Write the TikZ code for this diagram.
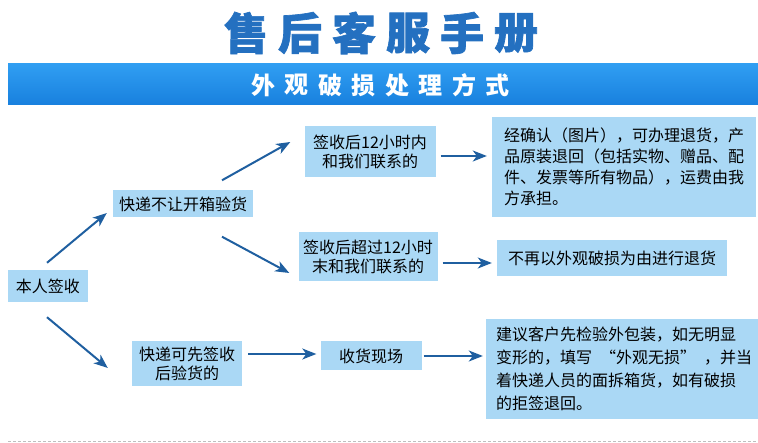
\documentclass[tikz,border=0pt]{standalone}
\usepackage{fontspec}
\newfontfamily\cjk{Noto Sans CJK SC}
\newfontfamily\titlefont[FakeBold=1.5]{Noto Sans CJK SC}
\usetikzlibrary{arrows.meta,calc}
\definecolor{boxblue}{RGB}{170,216,245}
\definecolor{arrowblue}{RGB}{31,95,160}
\definecolor{titleblue}{RGB}{36,112,192}
\definecolor{bandtop}{RGB}{48,158,242}
\definecolor{bandbot}{RGB}{24,128,222}
\tikzset{
  box/.style={fill=boxblue, inner sep=0pt, align=center,
    font=\cjk\fontsize{16}{19}\selectfont},
  bigbox/.style={box, align=left, inner xsep=10pt},
  arr/.style={draw=arrowblue, line width=2pt,
    -{Stealth[length=14pt,width=11pt,inset=4pt]}},
  titlechar/.style={text=titleblue, inner sep=0pt,
    font=\titlefont\bfseries\fontsize{44}{44}\selectfont},
  bandchar/.style={text=white, inner sep=0pt,
    font=\cjk\bfseries\fontsize{24}{24}\selectfont}
}
\begin{document}
\begin{tikzpicture}[x=1pt,y=-1pt]
  \useasboundingbox (0,0) rectangle (758,443);
  % title
  \foreach \c [count=\i from 0] in {售,后,客,服,手,册}
    \node[titlechar] (t\i) at (246+\i*54, 33) {\c};
  % blue band
  \fill[top color=bandtop, bottom color=bandbot] (8,64) rectangle (758,105);
  \foreach \c [count=\i from 0] in {外,观,破,损,处,理,方,式}
    \node[bandchar] (b\i) at (263+\i*33.5, 85) {\c};
  % boxes
  \node[box, minimum width=80pt, minimum height=32pt] (ben) at (48,286) {本人签收};
  \node[box, minimum width=140pt, minimum height=27pt] (kd1) at (183,204) {快递不让开箱验货};
  \node[box, minimum width=131pt, minimum height=51pt] (q1) at (370,152) {签收后12小时内\\和我们联系的};
  \node[box, minimum width=139pt, minimum height=49pt] (q2) at (368,257) {签收后超过12小时\\末和我们联系的};
  \node[box, minimum width=110pt, minimum height=45pt] (kd2) at (187,364) {快递可先签收\\后验货的};
  \node[box, minimum width=101pt, minimum height=29pt] (sh) at (371,356) {收货现场};
  \node[bigbox, minimum width=264pt, minimum height=100pt,
    font=\cjk\fontsize{16}{21}\selectfont] (r1) at (624,167)
    {经确认（图片），可办理退货，产\\品原装退回（包括实物、赠品、配\\件、发票等所有物品），运费由我\\方承担。};
  \node[box, minimum width=230pt, minimum height=36pt] (r2) at (612,258) {不再以外观破损为由进行退货};
  \node[bigbox, minimum width=266pt, minimum height=100pt,
    font=\cjk\fontsize{16}{23}\selectfont] (r3) at (624,369)
    {建议客户先检验外包装，如无明显\\变形的，填写\hspace{0.5em}“外观无损”\hspace{0.5em}，并当\\着快递人员的面拆箱货，如有破损\\的拒签退回。};
  % arrows
  \draw[arr] ($(ben.north)+(-1,-7)$) -- ($(kd1.west)+(-6,9)$);
  \draw[arr] ($(kd1.north)+(39,-10)$) -- ($(q1.west)+(-14,-10)$);
  \draw[arr] ($(kd1.south)+(39,19)$) -- ($(q2.west)+(-9,16)$);
  \draw[arr] ($(ben.south)+(-1,15)$) -- ($(kd2.west)+(-24,4)$);
  \draw[arr] ($(q1.east)+(5,4)$) -- ($(r1.west)+(-5,-11)$);
  \draw[arr] ($(q2.east)+(5,6)$) -- ($(r2.west)+(-5,5)$);
  \draw[arr] ($(kd2.east)+(6,-10)$) -- ($(sh.west)+(-4,-2)$);
  \draw[arr] ($(sh.east)+(2,0)$) -- ($(r3.west)+(-3,-13)$);
  % dashed rule at the bottom
  \draw[gray!50, dash pattern=on 3pt off 2pt] (8,441) -- (758,441);
\end{tikzpicture}
\end{document}
